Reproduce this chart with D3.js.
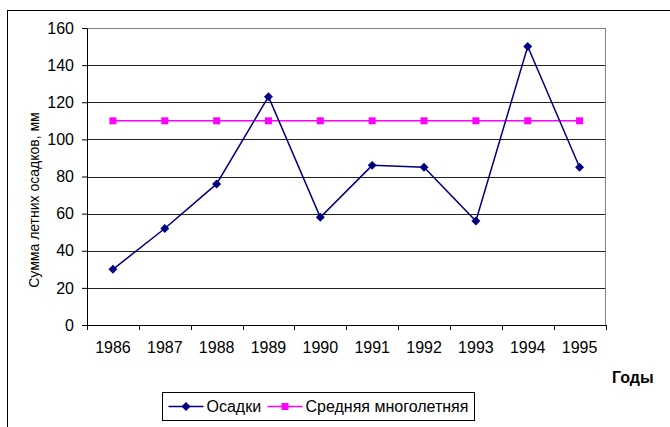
<!DOCTYPE html>
<html>
<head>
<meta charset="utf-8">
<script src="https://cdn.jsdelivr.net/npm/d3@7"></script>
<style>
  body { margin: 0; background: #fff; }
  svg { display: block; font-family: "Liberation Sans", Arial, sans-serif; }
</style>
</head>
<body>
<div id="chart"></div>
<script>
// data
const years = ["1986", "1987", "1988", "1989", "1990", "1991", "1992", "1993", "1994", "1995"];
const osadki = [30, 52, 76, 123, 58, 86, 85, 56, 150, 85];
const srednyaya = [110, 110, 110, 110, 110, 110, 110, 110, 110, 110];
const yTicks = [0, 20, 40, 60, 80, 100, 120, 140, 160];

const svgWidth = 670, svgHeight = 427;
const margin = { top: 28, right: 64.5, bottom: 102, left: 87 };
const width = svgWidth - margin.left - margin.right;
const height = svgHeight - margin.top - margin.bottom;

const svg = d3.select("#chart").append("svg")
    .attr("width", svgWidth)
    .attr("height", svgHeight);

// outer chart frame (runs off right and bottom)
svg.append("rect")
    .attr("x", 7.5).attr("y", 10.5)
    .attr("width", 700).attr("height", 500)
    .attr("fill", "none").attr("stroke", "#000").attr("stroke-width", 1);

const g = svg.append("g")
    .attr("transform", `translate(${margin.left}, ${margin.top})`);

const x = d3.scaleBand().domain(years).range([0, width]);
const y = d3.scaleLinear().domain([0, 160]).range([height, 0]);

// gridlines
g.selectAll(".grid")
    .data(yTicks.filter(d => d > 0))
    .enter().append("line")
    .attr("class", "grid")
    .attr("x1", 0).attr("x2", width)
    .attr("y1", d => Math.round(y(d)) + 0.5)
    .attr("y2", d => Math.round(y(d)) + 0.5)
    .style("stroke", d => d === 160 ? "#808080" : "#222")
    .style("stroke-width", 1);

// right border of plot area
g.append("line")
    .attr("x1", width).attr("x2", width)
    .attr("y1", y(160)).attr("y2", height)
    .style("stroke", "#808080").style("stroke-width", 1);

// y axis
const yAxis = g.append("g")
    .call(d3.axisLeft(y).tickValues(yTicks).tickSize(5).tickSizeOuter(0).tickPadding(8));
yAxis.select(".domain").attr("stroke", "#000");
yAxis.selectAll("text").style("font-size", "16px").attr("fill", "#000");

// x axis: ticks on category boundaries
const xAxis = g.append("g")
    .attr("transform", `translate(0, ${height})`)
    .call(d3.axisBottom(x).tickSize(0).tickPadding(17));
xAxis.select(".domain").attr("stroke", "#000");
xAxis.selectAll("text").style("font-size", "16px").attr("fill", "#000");
g.selectAll(".xtick")
    .data(d3.range(years.length + 1))
    .enter().append("line")
    .attr("class", "xtick")
    .attr("x1", i => Math.round(i * x.step()) + 0.5)
    .attr("x2", i => Math.round(i * x.step()) + 0.5)
    .attr("y1", height).attr("y2", height + 5)
    .style("stroke", "#000");

const cx = d => x(d) + x.bandwidth() / 2;

// mean line
const line = d3.line().x((d, i) => cx(years[i])).y(d => y(d));
g.append("path")
    .datum(srednyaya)
    .attr("d", line)
    .style("fill", "none").style("stroke", "#ff00ff").style("stroke-width", 1.5);
g.selectAll(".sq")
    .data(srednyaya)
    .enter().append("rect")
    .attr("class", "sq")
    .attr("x", (d, i) => cx(years[i]) - 3.5)
    .attr("y", d => y(d) - 3.5)
    .attr("width", 7).attr("height", 7)
    .style("fill", "#ff00ff");

// precipitation line
g.append("path")
    .datum(osadki)
    .attr("d", line)
    .style("fill", "none").style("stroke", "#000080").style("stroke-width", 1.5);
g.selectAll(".dm")
    .data(osadki)
    .enter().append("path")
    .attr("class", "dm")
    .attr("transform", (d, i) => `translate(${cx(years[i])}, ${y(d)}) rotate(45)`)
    .attr("d", d3.symbol().type(d3.symbolSquare).size(40))
    .style("fill", "#000080");

// axis titles
svg.append("text")
    .attr("transform", "translate(39, 200) rotate(-90)")
    .attr("text-anchor", "middle")
    .style("font-size", "14px")
    .text("Сумма летних осадков, мм");
svg.append("text")
    .attr("x", 612).attr("y", 383)
    .style("font-size", "16px").style("font-weight", "bold")
    .text("Годы");

// legend
const legend = svg.append("g").attr("transform", "translate(162.5, 392.5)");
legend.append("rect")
    .attr("width", 312).attr("height", 28)
    .style("fill", "#fff").style("stroke", "#000");
const items = [
  { name: "Осадки", color: "#000080", marker: "diamond", x0: 6, tx: 44 },
  { name: "Средняя многолетняя", color: "#ff00ff", marker: "square", x0: 105, tx: 143 }
];
items.forEach(it => {
    legend.append("line")
        .attr("x1", it.x0).attr("x2", it.x0 + 35)
        .attr("y1", 14).attr("y2", 14)
        .style("stroke", it.color).style("stroke-width", 1.5);
    if (it.marker === "diamond") {
        legend.append("path")
            .attr("transform", `translate(${it.x0 + 17.5}, 14) rotate(45)`)
            .attr("d", d3.symbol().type(d3.symbolSquare).size(40))
            .style("fill", it.color);
    } else {
        legend.append("rect")
            .attr("x", it.x0 + 14).attr("y", 10.5)
            .attr("width", 7).attr("height", 7)
            .style("fill", it.color);
    }
    legend.append("text")
        .attr("x", it.tx).attr("y", 19.5)
        .style("font-size", "16px")
        .text(it.name);
});
</script>
</body>
</html>
